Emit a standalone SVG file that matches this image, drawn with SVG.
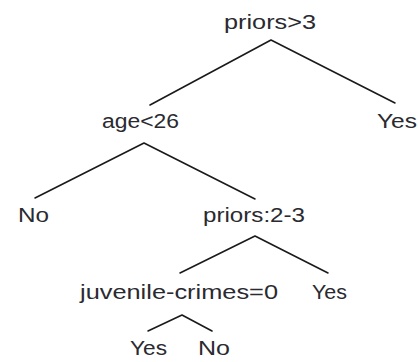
<svg xmlns="http://www.w3.org/2000/svg" width="418" height="362" viewBox="0 0 418 362">
  <style>
    .lbl { font-family: "Liberation Sans", "DejaVu Sans", sans-serif; font-size: 20px; fill: #2a2a30; }
    .edge { stroke: #1a1a1a; stroke-width: 1.6; fill: none; stroke-linecap: round; stroke-linejoin: round; }
  </style>
  <rect width="418" height="362" fill="#ffffff"/>
  <g id="edges">
    <path class="edge" d="M150,105 L271,40 L395,103"/>
    <path class="edge" d="M35,198 L144,143 L255,199"/>
    <path class="edge" d="M180,273 L255,236 L328,273"/>
    <path class="edge" d="M148,331 L182,315 L212,331"/>
  </g>
  <g id="n-priors3">
    <text class="lbl" x="224" y="29" textLength="92" lengthAdjust="spacingAndGlyphs">priors&gt;3</text>
  </g>
  <g id="n-yes-root">
    <text class="lbl" x="377" y="128" textLength="40" lengthAdjust="spacingAndGlyphs">Yes</text>
  </g>
  <g id="n-age26">
    <text class="lbl" x="102" y="128" textLength="77" lengthAdjust="spacingAndGlyphs">age&lt;26</text>
  </g>
  <g id="n-no-age">
    <text class="lbl" x="18" y="222" textLength="31" lengthAdjust="spacingAndGlyphs">No</text>
  </g>
  <g id="n-priors23">
    <text class="lbl" x="203" y="222" textLength="102" lengthAdjust="spacingAndGlyphs">priors:2-3</text>
  </g>
  <g id="n-juvenile">
    <text class="lbl" x="80" y="299" textLength="198" lengthAdjust="spacingAndGlyphs">juvenile-crimes=0</text>
  </g>
  <g id="n-yes-priors23">
    <text class="lbl" x="312" y="299" textLength="35" lengthAdjust="spacingAndGlyphs">Yes</text>
  </g>
  <g id="n-yes-juv">
    <text class="lbl" x="130" y="355" textLength="37" lengthAdjust="spacingAndGlyphs">Yes</text>
  </g>
  <g id="n-no-juv">
    <text class="lbl" x="198" y="355" textLength="32" lengthAdjust="spacingAndGlyphs">No</text>
  </g>
</svg>
